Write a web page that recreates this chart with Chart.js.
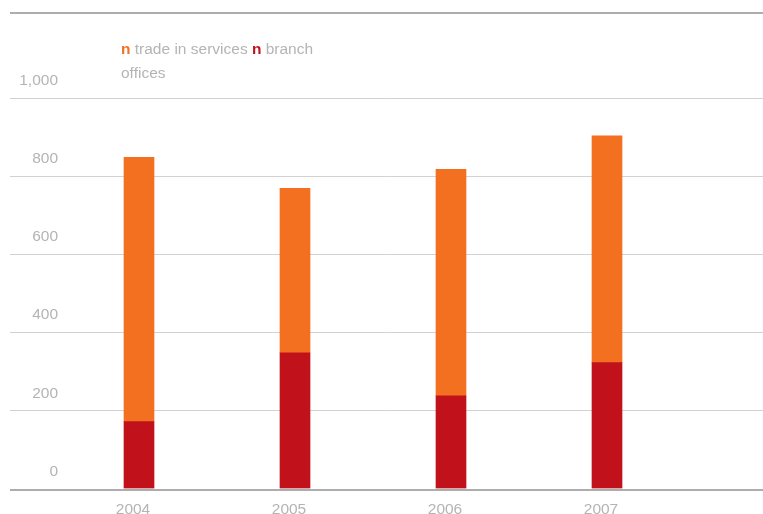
<!DOCTYPE html>
<html>
<head>
<meta charset="utf-8">
<script src="https://cdn.jsdelivr.net/npm/chart.js@4"></script>
<style>
  html, body { margin: 0; padding: 0; background: #fff; }
  #wrap { width: 763px; height: 514px; position: relative; }
</style>
</head>
<body>
<div id="wrap"><canvas id="barChart"></canvas></div>
<script>
// setup
const years = ['2004', '2005', '2006', '2007'];
const branchOffices = [171, 347, 237, 322];
const tradeInServices = [676, 421, 579, 580];
const yTicks = [0, 200, 400, 600, 800, 1000];
const yTickLabels = ['0', '200', '400', '600', '800', '1,000'];

const FONT = '"Liberation Sans", Arial, Helvetica, sans-serif';
const FONT_SIZE = '15.5px ';
const TEXT_GREY = '#b4b4b4';
const ORANGE = '#f37021';
const RED = '#c1121c';

// grid, axis text and the little legend are painted by hand
const decorations = {
  id: 'decorations',
  beforeDatasetsDraw(chart) {
    const ctx = chart.ctx;
    const y = chart.scales.y;
    ctx.save();
    // top rule
    ctx.strokeStyle = '#adadad';
    ctx.lineWidth = 2;
    ctx.beginPath();
    ctx.moveTo(10, 13);
    ctx.lineTo(763, 13);
    ctx.stroke();
    // gridlines
    ctx.strokeStyle = '#d2d2d2';
    ctx.lineWidth = 1;
    yTicks.forEach(v => {
      if (v === 0) return;
      const py = Math.round(y.getPixelForValue(v)) + 0.5;
      ctx.beginPath();
      ctx.moveTo(10, py);
      ctx.lineTo(763, py);
      ctx.stroke();
    });
    // tick labels sit above their lines
    ctx.font = FONT_SIZE + FONT;
    ctx.fillStyle = TEXT_GREY;
    ctx.textAlign = 'right';
    ctx.textBaseline = 'middle';
    yTicks.forEach((v, i) => {
      ctx.fillText(yTickLabels[i], 58, y.getPixelForValue(v) - 17);
    });
    ctx.restore();
  },
  afterDatasetsDraw(chart) {
    const ctx = chart.ctx;
    const x = chart.scales.x;
    const y = chart.scales.y;
    ctx.save();
    // base line
    ctx.strokeStyle = '#adadad';
    ctx.lineWidth = 2;
    const by = Math.round(y.getPixelForValue(0)) + 1;
    ctx.beginPath();
    ctx.moveTo(10, by);
    ctx.lineTo(763, by);
    ctx.stroke();
    // category labels
    ctx.font = FONT_SIZE + FONT;
    ctx.fillStyle = TEXT_GREY;
    ctx.textAlign = 'center';
    ctx.textBaseline = 'middle';
    years.forEach((yr, i) => {
      ctx.fillText(yr, x.getPixelForValue(i) - 6, 510);
    });
    // legend
    ctx.textAlign = 'left';
    let lx = 121;
    const ly = 50;
    const parts = [
      { t: 'n', c: ORANGE, b: true },
      { t: ' trade in services ', c: TEXT_GREY },
      { t: 'n', c: RED, b: true },
      { t: ' branch', c: TEXT_GREY }
    ];
    parts.forEach(p => {
      ctx.font = (p.b ? 'bold ' : '') + FONT_SIZE + FONT;
      ctx.fillStyle = p.c;
      ctx.fillText(p.t, lx, ly);
      lx += ctx.measureText(p.t).width;
    });
    ctx.font = FONT_SIZE + FONT;
    ctx.fillStyle = TEXT_GREY;
    ctx.fillText('offices', 121, ly + 24);
    ctx.restore();
  }
};

// config
const config = {
  type: 'bar',
  data: {
    labels: years,
    datasets: [{
      label: 'branch offices',
      data: branchOffices,
      backgroundColor: RED,
      barThickness: 30
    }, {
      label: 'trade in services',
      data: tradeInServices,
      backgroundColor: ORANGE,
      barThickness: 30
    }]
  },
  options: {
    responsive: false,
    animation: false,
    layout: {
      padding: { left: 61, right: 78, top: 97.5, bottom: 25.5 }
    },
    plugins: {
      legend: { display: false },
      tooltip: { enabled: false }
    },
    scales: {
      x: {
        stacked: true,
        display: false
      },
      y: {
        stacked: true,
        display: false,
        min: 0,
        max: 1000,
        ticks: { stepSize: 200 }
      }
    }
  },
  plugins: [decorations]
};

// render init block
const canvas = document.getElementById('barChart');
canvas.width = 763;
canvas.height = 514;
const myChart = new Chart(canvas, config);
</script>
</body>
</html>
